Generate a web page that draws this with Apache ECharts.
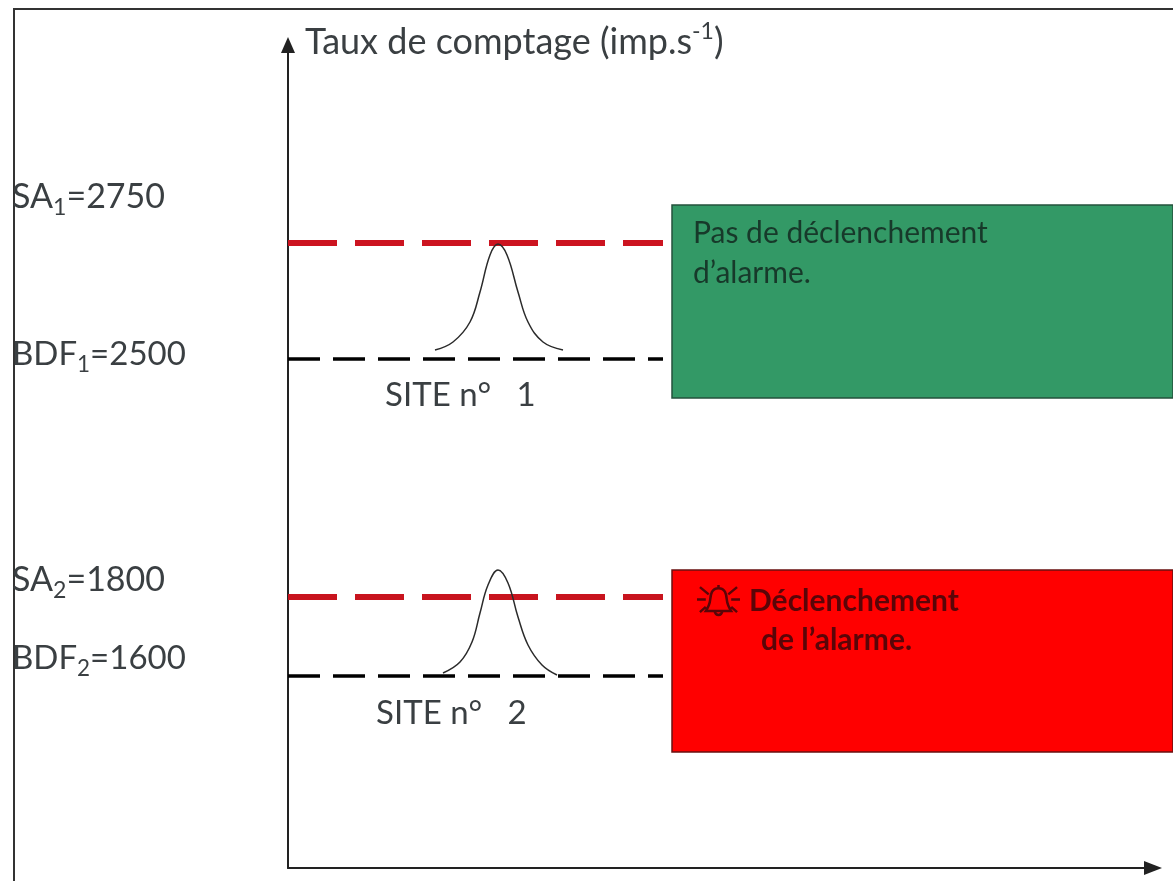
<!DOCTYPE html>
<html>
<head>
<meta charset="utf-8">
<title>Taux de comptage</title>
<script src="https://cdn.jsdelivr.net/npm/echarts@6/dist/echarts.min.js"></script>
<style>
    html, body { margin: 0; padding: 0; background: #fff; }
    #main { width: 1173px; height: 881px; }
</style>
</head>
<body>
<div id="main"></div>
<script>
/* niveaux du schema : il n'est pas a l'echelle, valeurs lues en hauteur au-dessus de l'axe */
var xMax = 865;
var yMax = 823;
var lineX = [0, 375];
var alarmLevels = [625, 271];
var backgroundLevels = [509, 192];

var curve1X = [147, 165, 182, 192, 202, 210, 219, 230, 240, 255, 275];
var curve1Y = [518, 526, 546, 576, 613, 624, 613, 576, 546, 526, 518];
var curve2X = [155, 172, 184, 192, 200, 210, 220, 230, 240, 254, 269];
var curve2Y = [195, 206, 226, 255, 283, 298, 285, 251, 223, 203, 193];

var boxX = [[384, 885], [384, 885]];
var boxY = [[663, 470], [298, 116]];
var boxColors = ['#339966', '#ff0000'];
var boxBorders = ['#24523c', '#6a1010'];

var textColor = '#3a3f42';
var alarmColor = '#5a0508';
var fontName = 'Lato, "Noto Sans", sans-serif';

var bellPath = 'M22 3C15 3 14 9 13.5 14C13 19 11 22 9 25L35 25C33 22 31 19 30.5 14C30 9 29 3 22 3Z' +
    'M18 25C19 30 25 30 26 25M0 14L9 14M35 14L44 14M3 2L12 9M41 2L32 9M3 26L9 21M41 26L35 21M22 0L22 3';

function zip(xs, ys) {
    return xs.map(function (x, i) {
        return [x, ys[i]];
    });
}

function dashedLine(level, color, width, dash) {
    return {
        type: 'line',
        data: zip(lineX, [level, level]),
        symbol: 'none',
        silent: true,
        z: 3,
        lineStyle: { color: color, width: width, type: dash, cap: 'butt' }
    };
}

function curve(xs, ys) {
    return {
        type: 'line',
        data: zip(xs, ys),
        smooth: 0.4,
        symbol: 'none',
        silent: true,
        z: 4,
        lineStyle: { color: '#2b2b2b', width: 1.5 }
    };
}

function renderBox(params, api) {
    var i = params.dataIndex;
    var p0 = api.coord([boxX[i][0], boxY[i][0]]);
    var p1 = api.coord([boxX[i][1], boxY[i][1]]);
    return {
        type: 'rect',
        shape: { x: p0[0], y: p0[1], width: p1[0] - p0[0], height: p1[1] - p0[1] },
        style: { fill: boxColors[i], stroke: boxBorders[i], lineWidth: 1.5 }
    };
}

// cloche de l'alarme
function renderBell(params, api) {
    var p = api.coord([409, 283]);
    return {
        type: 'path',
        shape: { pathData: bellPath, x: p[0], y: p[1], width: 43, height: 30, layout: 'cover' },
        style: { fill: 'none', stroke: alarmColor, lineWidth: 2.5 }
    };
}

function label(x, y, text, size) {
    return {
        type: 'text',
        x: x,
        y: y,
        z: 10,
        style: {
            text: text,
            fill: textColor,
            font: size + 'px ' + fontName,
            verticalAlign: 'middle',
            rich: {
                a: { fontSize: size, fontFamily: fontName, fill: textColor, lineHeight: 44 },
                sub: { fontSize: size * 0.68, fontFamily: fontName, fill: textColor, verticalAlign: 'bottom', lineHeight: 30, padding: [12, 0, 0, 0] }
            }
        }
    };
}

function boxText(x, y, text, size, color, weight) {
    return {
        type: 'text',
        x: x,
        y: y,
        z: 10,
        style: {
            text: text,
            fill: color,
            font: weight + ' ' + size + 'px ' + fontName,
            verticalAlign: 'middle'
        }
    };
}

var chart = echarts.init(document.getElementById('main'));

chart.setOption({
    animation: false,
    backgroundColor: '#fff',
    grid: { left: 288, right: 20, top: 45, bottom: 13 },
    xAxis: {
        type: 'value',
        min: 0,
        max: xMax,
        axisLine: { show: true, symbol: ['none', 'triangle'], symbolSize: [14, 18], lineStyle: { color: '#222', width: 2 } },
        axisTick: { show: false },
        axisLabel: { show: false },
        splitLine: { show: false }
    },
    yAxis: {
        type: 'value',
        min: 0,
        max: yMax,
        name: '{a|Taux de comptage (imp.s}{sup|-1}{a|)}',
        nameLocation: 'end',
        nameGap: 0,
        nameTextStyle: {
            align: 'left',
            verticalAlign: 'middle',
            padding: [0, 0, 6, 17],
            rich: {
                a: { fontSize: 36, fontFamily: fontName, color: textColor, lineHeight: 44 },
                sup: { fontSize: 23, fontFamily: fontName, color: textColor, verticalAlign: 'top', lineHeight: 30 }
            }
        },
        axisLine: { show: true, symbol: ['none', 'triangle'], symbolSize: [14, 16], lineStyle: { color: '#222', width: 2 } },
        axisTick: { show: false },
        axisLabel: { show: false },
        splitLine: { show: false }
    },
    series: [
        {
            type: 'custom',
            renderItem: renderBox,
            data: boxX,
            silent: true,
            clip: false,
            z: 1
        },
        {
            type: 'custom',
            renderItem: renderBell,
            data: [[409, 283]],
            silent: true,
            clip: false,
            z: 5
        },
        dashedLine(alarmLevels[0], '#cc1420', 6, [49, 18]),
        dashedLine(alarmLevels[1], '#c8141e', 6, [49, 18]),
        dashedLine(backgroundLevels[0], '#000', 3.5, [32, 13]),
        dashedLine(backgroundLevels[1], '#000', 3.5, [32, 13]),
        curve(curve1X, curve1Y),
        curve(curve2X, curve2Y)
    ],
    graphic: [
        // cadre gauche et haut
        {
            type: 'polyline',
            shape: { points: [[14, 881], [14, 9], [1173, 9]] },
            style: { stroke: '#333', lineWidth: 2, fill: null },
            z: 9
        },
        label(12, 197, '{a|SA}{sub|1}{a|=2750}', 34),
        label(12, 354, '{a|BDF}{sub|1}{a|=2500}', 33),
        label(12, 580, '{a|SA}{sub|2}{a|=1800}', 34),
        label(12, 658, '{a|BDF}{sub|2}{a|=1600}', 33),
        boxText(385, 395, 'SITE n°   1', 33, textColor, 'normal'),
        boxText(376, 713, 'SITE n°   2', 33, textColor, 'normal'),
        boxText(693, 233, 'Pas de déclenchement', 30, '#17392a', 'normal'),
        boxText(693, 273, 'd’alarme.', 30, '#17392a', 'normal'),
        boxText(749, 601, 'Déclenchement', 30, alarmColor, 'bold'),
        boxText(761, 640, 'de l’alarme.', 30, alarmColor, 'bold')
    ]
});

window.addEventListener('resize', function () {
    chart.resize();
});
</script>
</body>
</html>
